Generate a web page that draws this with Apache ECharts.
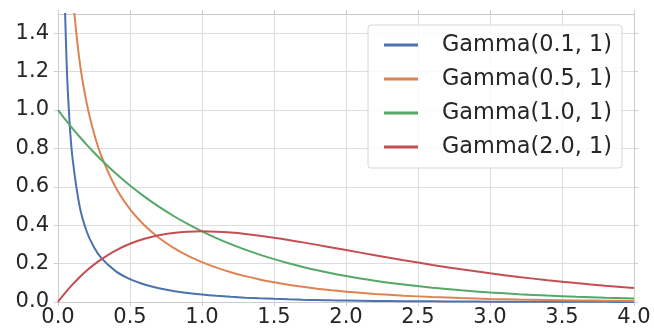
<!DOCTYPE html>
<html>
<head>
<meta charset="utf-8">
<script src="https://cdn.jsdelivr.net/npm/echarts@6/dist/echarts.min.js"></script>
<style>
html,body{margin:0;padding:0;background:#ffffff;}
#chart{width:654px;height:331px;}
</style>
</head>
<body>
<div id="chart"></div>
<script>
// x positions (shared by all series)
const xs = [0, 0.02, 0.04, 0.06, 0.08, 0.1, 0.15, 0.2, 0.25, 0.3, 0.4, 0.5, 0.6, 0.7, 0.8, 0.9, 1.0,
  1.1, 1.2, 1.3, 1.4, 1.5, 1.6, 1.7, 1.8, 1.9, 2.0, 2.2, 2.4, 2.6, 2.8, 3.0, 3.2, 3.4, 3.6, 3.8, 4.0];

const gamma01 = [null, 3.48, 1.83, 1.245, 0.942, 0.755, 0.499, 0.366, 0.285, 0.230, 0.161, 0.119, 0.0914,
  0.0720, 0.0577, 0.0470, 0.0387, 0.0321, 0.0269, 0.0226, 0.0192, 0.0163, 0.0139, 0.0119, 0.0102, 0.0088,
  0.0076, 0.0057, 0.0043, 0.0033, 0.0025, 0.0019, 0.0015, 0.0012, 0.0009, 0.0007, 0.0006];

const gamma05 = [null, 3.91, 2.710, 2.169, 1.841, 1.614, 1.254, 1.033, 0.879, 0.763, 0.598, 0.484, 0.400,
  0.335, 0.2834, 0.2418, 0.2076, 0.1791, 0.1551, 0.1348, 0.1176, 0.1028, 0.0900, 0.0791, 0.0695, 0.0612,
  0.0540, 0.0421, 0.0330, 0.0260, 0.0205, 0.0162, 0.0129, 0.0102, 0.0081, 0.0065, 0.0052];

const gamma10 = [1.0, 0.9802, 0.9608, 0.9418, 0.9231, 0.9048, 0.8607, 0.8187, 0.7788, 0.7408, 0.6703, 0.6065,
  0.5488, 0.4966, 0.4493, 0.4066, 0.3679, 0.3329, 0.3012, 0.2725, 0.2466, 0.2231, 0.2019, 0.1827, 0.1653,
  0.1496, 0.1353, 0.1108, 0.0907, 0.0743, 0.0608, 0.0498, 0.0408, 0.0334, 0.0273, 0.0224, 0.0183];

const gamma20 = [0, 0.0196, 0.0384, 0.0565, 0.0738, 0.0905, 0.1291, 0.1637, 0.1947, 0.2222, 0.2681, 0.3033,
  0.3293, 0.3476, 0.3595, 0.3659, 0.3679, 0.3662, 0.3614, 0.3543, 0.3452, 0.3347, 0.3230, 0.3106, 0.2975,
  0.2842, 0.2707, 0.2438, 0.2177, 0.1931, 0.1702, 0.1494, 0.1304, 0.1135, 0.0984, 0.0852, 0.0733];

const seriesNames = ['Gamma(0.1, 1)', 'Gamma(0.5, 1)', 'Gamma(1.0, 1)', 'Gamma(2.0, 1)'];
const seriesValues = [gamma01, gamma05, gamma10, gamma20];
const colors = ['#4c72b0', '#dd8452', '#55a868', '#c44e52'];

const yTicks = [0, 0.2, 0.4, 0.6, 0.8, 1.0, 1.2, 1.4];
const xTicks = [0, 0.5, 1.0, 1.5, 2.0, 2.5, 3.0, 3.5, 4.0];

const frame = '#cccccc';
const gridC = '#dddddd';
const textC = '#262626';
const FONT = 'DejaVu Sans';

function pairs(vals) {
  return xs.map((x, i) => [x, vals[i]]);
}

const chart = echarts.init(document.getElementById('chart'), null, {renderer: 'canvas'});

const axisCommon = {
  type: 'value',
  axisLine: {show: true, onZero: false, lineStyle: {color: frame, width: 1}},
  axisTick: {show: true, inside: false, length: 4, lineStyle: {color: frame, width: 1}},
};

chart.setOption({
  backgroundColor: '#ffffff',
  animation: false,
  color: colors,
  grid: {left: 58, right: 20, top: 14, bottom: 29, containLabel: false},
  legend: {
    orient: 'vertical',
    left: 368,
    top: 25,
    width: 255,
    padding: [9, 10, 10, 16],
    itemGap: 12,
    itemWidth: 34,
    itemHeight: 3,
    icon: 'rect',
    backgroundColor: 'rgba(255,255,255,0.85)',
    borderColor: '#d6d6d6',
    borderWidth: 1,
    borderRadius: 3,
    textStyle: {fontFamily: FONT, fontSize: 22.4, color: textC, padding: [0, 0, 0, 19]},
    data: seriesNames
  },
  xAxis: [
    Object.assign({}, axisCommon, {
      position: 'bottom', min: 0, max: 4, interval: 0.5,
      axisLabel: {show: true, fontFamily: FONT, fontSize: 21, color: textC, margin: 5,
        customValues: xTicks, formatter: v => v.toFixed(1)},
      axisTick: {show: true, length: 4, lineStyle: {color: frame}, customValues: xTicks},
      splitLine: {show: true, lineStyle: {color: gridC, width: 1}}
    }),
    Object.assign({}, axisCommon, {
      position: 'top', min: 0, max: 4, interval: 0.5,
      axisLabel: {show: false},
      splitLine: {show: false}
    })
  ],
  yAxis: [
    Object.assign({}, axisCommon, {
      position: 'left', min: 0, max: 1.5, interval: 0.2,
      axisLabel: {show: true, fontFamily: FONT, fontSize: 21, color: textC, margin: 9,
        customValues: yTicks, formatter: v => v.toFixed(1)},
      axisTick: {show: true, length: 4, lineStyle: {color: frame}, customValues: yTicks},
      splitLine: {show: true, lineStyle: {color: gridC, width: 1}}
    }),
    Object.assign({}, axisCommon, {
      position: 'right', min: 0, max: 1.5, interval: 0.2,
      axisLabel: {show: false},
      axisTick: {show: true, length: 4, lineStyle: {color: frame}, customValues: yTicks},
      splitLine: {show: false}
    })
  ],
  series: seriesNames.map((name, i) => ({
    name: name,
    type: 'line',
    xAxisIndex: 0,
    yAxisIndex: 0,
    data: pairs(seriesValues[i]),
    showSymbol: false,
    symbol: 'none',
    smooth: 0.3,
    clip: true,
    connectNulls: false,
    lineStyle: {width: 2, color: colors[i]},
    itemStyle: {color: colors[i]},
    emphasis: {disabled: true}
  }))
});
</script>
</body>
</html>
